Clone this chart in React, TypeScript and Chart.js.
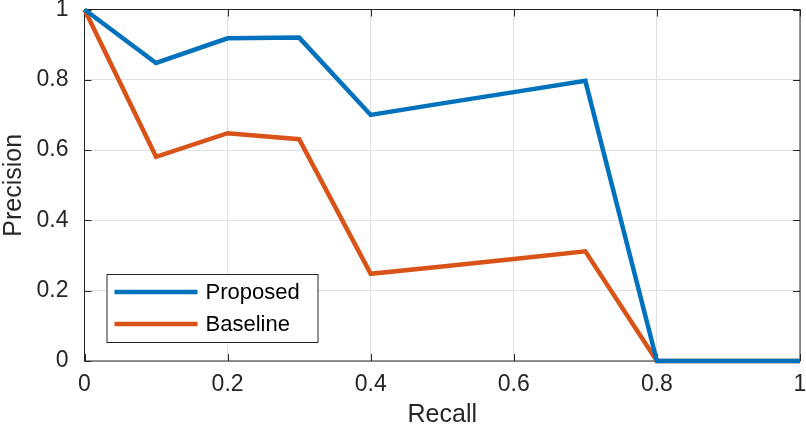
import { useEffect, useRef } from 'react';
import { Chart, registerables } from 'chart.js';

Chart.register(...registerables);

const recall = [0, 0.1, 0.2, 0.3, 0.4, 0.5, 0.6, 0.7, 0.8, 0.9, 1];
const proposed = [1, 0.848, 0.918, 0.92, 0.7, 0.733, 0.765, 0.797, 0, 0, 0];
const baseline = [1, 0.581, 0.648, 0.631, 0.248, 0.269, 0.29, 0.312, 0, 0, 0];
const seriesNames = ['Proposed', 'Baseline'];
const seriesColors = ['#0072BD', '#D95319'];

const FONT = "'Liberation Sans', Arial, Helvetica, sans-serif";
const AXIS = '#262626';

const fmt = (v: any) => String(Number(Number(v).toFixed(1)));

// axes box with inward ticks, drawn under the lines
const boxPlugin = {
  id: 'box',
  beforeDatasetsDraw(chart: any) {
    const { ctx, chartArea: a, scales } = chart;
    const len = 7;
    ctx.save();
    ctx.strokeStyle = AXIS;
    ctx.lineWidth = 1;
    ctx.strokeRect(a.left, a.top, a.right - a.left, a.bottom - a.top);
    ctx.beginPath();
    scales.x.ticks.forEach((t: any) => {
      const px = Math.round(scales.x.getPixelForValue(t.value)) + 0.5;
      ctx.moveTo(px, a.bottom);
      ctx.lineTo(px, a.bottom - len);
      ctx.moveTo(px, a.top);
      ctx.lineTo(px, a.top + len);
    });
    scales.y.ticks.forEach((t: any) => {
      const py = Math.round(scales.y.getPixelForValue(t.value)) + 0.5;
      ctx.moveTo(a.left, py);
      ctx.lineTo(a.left + len, py);
      ctx.moveTo(a.right, py);
      ctx.lineTo(a.right - len, py);
    });
    ctx.stroke();
    ctx.restore();
  },
};

// MATLAB-style legend box in the lower left of the axes
const legendPlugin = {
  id: 'boxLegend',
  afterDatasetsDraw(chart: any) {
    const { ctx, chartArea: a } = chart;
    const x0 = a.left + 22;
    const y0 = a.bottom - 87;
    const w = 211;
    const h = 68;
    ctx.save();
    ctx.fillStyle = '#ffffff';
    ctx.fillRect(x0, y0, w, h);
    ctx.strokeStyle = AXIS;
    ctx.lineWidth = 1;
    ctx.strokeRect(x0 + 0.5, y0 + 0.5, w, h);
    ctx.font = `22px ${FONT}`;
    ctx.textBaseline = 'middle';
    chart.data.datasets.forEach((ds: any, i: number) => {
      const y = y0 + 18 + i * 32;
      ctx.strokeStyle = ds.borderColor;
      ctx.lineWidth = 4.5;
      ctx.beginPath();
      ctx.moveTo(x0 + 8, y);
      ctx.lineTo(x0 + 91, y);
      ctx.stroke();
      ctx.fillStyle = '#000000';
      ctx.fillText(ds.label, x0 + 99, y + 1);
    });
    ctx.restore();
  },
};

export default function App() {
  const canvasRef = useRef<HTMLCanvasElement | null>(null);
  const chartRef = useRef<Chart | null>(null);

  useEffect(() => {
    if (!canvasRef.current) return;
    if (chartRef.current) chartRef.current.destroy();

    const makeData = (vals: number[]) => recall.map((r, i) => ({ x: r, y: vals[i] }));

    chartRef.current = new Chart(canvasRef.current, {
      type: 'line',
      data: {
        datasets: [proposed, baseline].map((vals, i) => ({
          label: seriesNames[i],
          data: makeData(vals),
          borderColor: seriesColors[i],
          backgroundColor: seriesColors[i],
          borderWidth: 4.5,
          pointRadius: 0,
          tension: 0,
          clip: false as any,
          borderJoinStyle: 'miter' as const,
        })),
      },
      options: {
        responsive: true,
        maintainAspectRatio: false,
        animation: false,
        layout: { padding: { top: 9.5, right: 6, left: 0, bottom: 0 } },
        plugins: {
          legend: { display: false },
          tooltip: { enabled: false },
        },
        scales: {
          x: {
            type: 'linear',
            min: 0,
            max: 1,
            afterFit: (s: any) => {
              s.height = 69;
              s.paddingLeft = 0;
              s.paddingRight = 0;
            },
            ticks: {
              stepSize: 0.2,
              color: AXIS,
              padding: 10,
              font: { family: FONT, size: 23 },
              maxRotation: 0,
              callback: fmt,
            },
            grid: { color: '#e0e0e0', drawTicks: false },
            border: { display: false },
            title: {
              display: true,
              text: 'Recall',
              color: AXIS,
              font: { family: FONT, size: 25 },
              padding: { top: 1, bottom: 0 },
            },
          },
          y: {
            min: 0,
            max: 1,
            afterFit: (s: any) => {
              s.width = 84.5;
              s.paddingTop = 0;
              s.paddingBottom = 0;
            },
            ticks: {
              stepSize: 0.2,
              color: AXIS,
              padding: 16,
              font: { family: FONT, size: 23 },
              callback: fmt,
            },
            grid: { color: '#e0e0e0', drawTicks: false },
            border: { display: false },
            title: {
              display: true,
              text: 'Precision',
              color: AXIS,
              font: { family: FONT, size: 25 },
              padding: { top: -1, bottom: 0 },
            },
          },
        },
      },
      plugins: [boxPlugin, legendPlugin],
    });

    return () => {
      chartRef.current?.destroy();
    };
  }, []);

  return (
    <div style={{ position: 'fixed', left: 0, top: 0, width: 806, height: 430, background: '#ffffff' }}>
      <canvas ref={canvasRef} />
    </div>
  );
}
